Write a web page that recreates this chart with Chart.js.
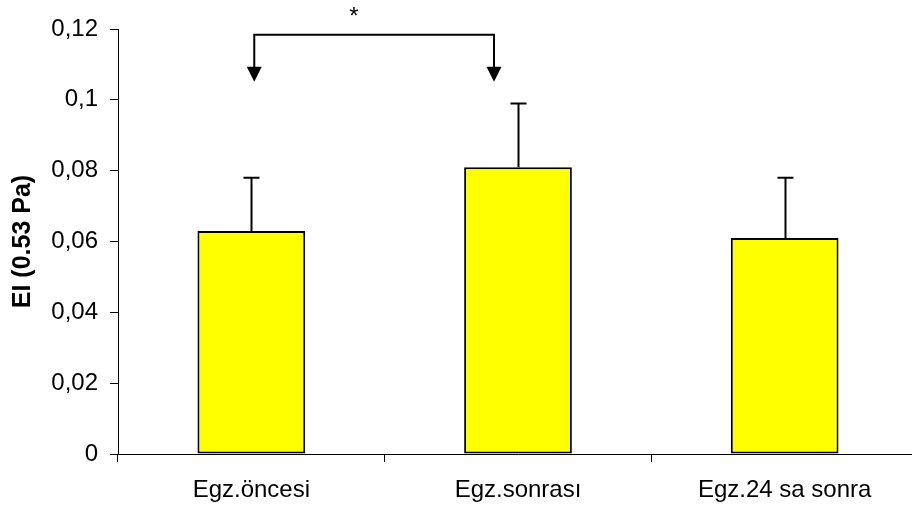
<!DOCTYPE html>
<html>
<head>
<meta charset="utf-8">
<script src="https://cdn.jsdelivr.net/npm/chart.js@4/dist/chart.umd.min.js"></script>
<style>
  html, body { margin:0; padding:0; background:#fff; overflow:hidden; }
  #wrap { width:920px; height:508px; }
</style>
</head>
<body>
<div id="wrap"><canvas id="chart" width="920" height="508"></canvas></div>
<script>
const categories = ['Egz.öncesi', 'Egz.sonrası', 'Egz.24 sa sonra'];
const means      = [0.063, 0.081, 0.061];
const errors     = [0.015, 0.018, 0.017];   // upper SD
const yTicks     = [0, 0.02, 0.04, 0.06, 0.08, 0.1, 0.12];

// significance bracket between the first two groups
const sigFrom  = 0.011;
const sigTo    = 0.91;
const sigLevel = 0.1184;
const sigTip   = 0.1051;
const sigMark  = '*';
const sigMarkX = 0.385;
const sigMarkY = 0.1245;

const FONT = '"Liberation Sans", Arial, sans-serif';

const errorBars = {
  id: 'errorBars',
  afterDatasetsDraw(chart) {
    const { ctx, scales: { x, y } } = chart;
    ctx.save();
    ctx.strokeStyle = '#000';
    ctx.lineWidth = 2;
    means.forEach((m, i) => {
      const cx = Math.round(x.getPixelForValue(i)) + 0.5;
      const top = y.getPixelForValue(m + errors[i]);
      const base = y.getPixelForValue(m);
      ctx.beginPath();
      ctx.moveTo(cx, base);
      ctx.lineTo(cx, top);
      ctx.moveTo(cx - 8, top);
      ctx.lineTo(cx + 8, top);
      ctx.stroke();
    });
    ctx.restore();
  }
};

const bracket = {
  id: 'bracket',
  afterDraw(chart) {
    const { ctx, scales: { x, y } } = chart;
    const x1 = x.getPixelForValue(sigFrom);
    const x2 = x.getPixelForValue(sigTo);
    const yl = y.getPixelForValue(sigLevel);
    const yt = y.getPixelForValue(sigTip);
    ctx.save();
    ctx.strokeStyle = '#000';
    ctx.fillStyle = '#000';
    ctx.lineWidth = 2;
    ctx.beginPath();
    ctx.moveTo(x1, yt - 12);
    ctx.lineTo(x1, yl);
    ctx.lineTo(x2, yl);
    ctx.lineTo(x2, yt - 12);
    ctx.stroke();
    [x1, x2].forEach(ax => {
      ctx.beginPath();
      ctx.moveTo(ax - 7.5, yt - 15);
      ctx.lineTo(ax + 7.5, yt - 15);
      ctx.lineTo(ax, yt);
      ctx.closePath();
      ctx.fill();
    });
    ctx.font = '24px ' + FONT;
    ctx.textAlign = 'center';
    ctx.textBaseline = 'middle';
    ctx.fillText(sigMark, x.getPixelForValue(sigMarkX), y.getPixelForValue(sigMarkY) + 4);
    ctx.restore();
  }
};

new Chart(document.getElementById('chart'), {
  type: 'bar',
  data: {
    labels: categories,
    datasets: [{
      data: means,
      backgroundColor: '#FFFF00',
      borderColor: '#000',
      borderWidth: 2,
      borderSkipped: false,
      barPercentage: 0.404,
      categoryPercentage: 1
    }]
  },
  options: {
    responsive: false,
    animation: false,
    layout: { padding: { top: 29, right: 2, left: 0, bottom: 0 } },
    plugins: { legend: { display: false }, tooltip: { enabled: false } },
    scales: {
      x: {
        afterFit: s => { s.height = 54; },
        grid: { display: true, drawOnChartArea: false, drawTicks: true, tickLength: 8, color: '#000', offset: true },
        border: { display: true, color: '#000', width: 1 },
        ticks: { color: '#000', font: { family: FONT, size: 24 }, padding: 14, maxRotation: 0 }
      },
      y: {
        min: 0,
        max: 0.12,
        afterFit: s => { s.width = 118; },
        afterBuildTicks: s => { s.ticks = yTicks.map(v => ({ value: v })); },
        grid: { display: true, drawOnChartArea: false, drawTicks: true, tickLength: 8, color: '#000' },
        border: { display: true, color: '#000', width: 1 },
        ticks: {
          color: '#000',
          font: { family: FONT, size: 24 },
          padding: 12,
          callback: v => String(+v.toFixed(2)).replace('.', ',')
        },
        title: {
          display: true,
          text: 'EI (0.53 Pa)',
          color: '#000',
          font: { family: FONT, size: 25, weight: 'bold' },
          padding: { top: 8, bottom: 0 }
        }
      }
    }
  },
  plugins: [errorBars, bracket]
});
</script>
</body>
</html>
